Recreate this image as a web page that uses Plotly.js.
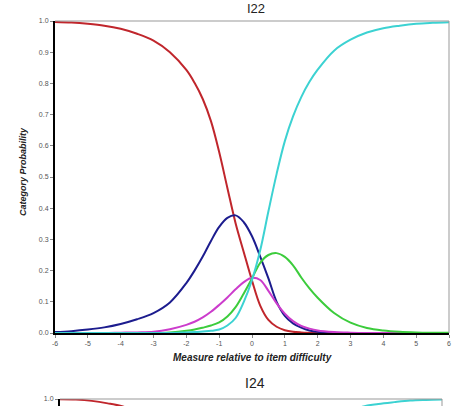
<!DOCTYPE html>
<html>
<head>
<meta charset="utf-8">
<script src="https://cdn.plot.ly/plotly-3.0.1.min.js"></script>
<style>html,body{margin:0;padding:0;background:#fff;}#chart{width:466px;height:406px;}</style>
</head>
<body>
<div id="chart"></div>
<script>
// Measures (logits relative to item difficulty)
const measure = [-6,-5.5,-5,-4.5,-4,-3.5,-3,-2.5,-2,-1.75,-1.5,-1.25,-1,-0.75,-0.5,-0.25,0,0.25,0.5,0.75,1,1.25,1.5,1.75,2,2.5,3,3.5,4,4.5,5,5.5,6];
// I22 category probability curves
const cat1 = [0.997,0.995,0.991,0.985,0.975,0.959,0.937,0.9,0.843,0.802,0.75,0.679,0.58,0.465,0.352,0.259,0.168,0.088,0.042,0.02,0.009,0.004,0.002,0.001,0.0005,0,0,0,0,0,0,0,0];
const cat2 = [0.003,0.006,0.011,0.018,0.029,0.044,0.064,0.098,0.16,0.2,0.245,0.295,0.34,0.369,0.377,0.355,0.31,0.245,0.175,0.1,0.055,0.031,0.017,0.008,0.004,0.001,0,0,0,0,0,0,0];
const cat3 = [0,0,0,0,0.001,0.002,0.004,0.012,0.026,0.036,0.05,0.068,0.09,0.114,0.14,0.163,0.177,0.17,0.135,0.095,0.062,0.038,0.023,0.014,0.008,0.003,0.001,0,0,0,0,0,0];
const cat4 = [0,0,0,0,0,0,0,0.002,0.007,0.011,0.017,0.024,0.034,0.053,0.083,0.127,0.175,0.225,0.25,0.256,0.244,0.217,0.178,0.143,0.113,0.064,0.033,0.016,0.008,0.004,0.002,0.001,0.0005];
const cat5 = [0,0,0,0,0,0,0,0,0.002,0.003,0.005,0.007,0.011,0.024,0.048,0.1,0.17,0.265,0.39,0.51,0.615,0.694,0.756,0.805,0.844,0.905,0.94,0.963,0.977,0.985,0.991,0.994,0.996];
// I24 (only the top of this chart is visible)
const measure24 = [-6,-5.5,-5,-4.5,-4,-3.5,-3,-2,-1,0,1,2,3,3.5,4,4.5,5,5.5,6];
const cat1_24 = [0.999,0.998,0.994,0.986,0.975,0.955,0.93,0.82,0.55,0.2,0.04,0.007,0.001,0,0,0,0,0,0];
const cat5_24 = [0,0,0,0,0,0,0,0.005,0.03,0.15,0.5,0.82,0.95,0.975,0.984,0.99,0.995,0.997,0.998];

const xTicks = [-6,-5,-4,-3,-2,-1,0,1,2,3,4,5,6];
const yTicks = [0,0.1,0.2,0.3,0.4,0.5,0.6,0.7,0.8,0.9,1.0];

const colors = ['#c0262c','#1c1c8e','#cc3ccc','#3ccc3c','#3cd2d2'];
const series = [cat1, cat2, cat3, cat4, cat5];
const traces = series.map((s, i) => ({
  x: measure, y: s, type: 'scatter', mode: 'lines',
  line: {color: colors[i], width: 2, shape: 'spline', smoothing: 1},
  xaxis: 'x', yaxis: 'y', hoverinfo: 'skip'
}));
traces.push({x: measure24, y: cat1_24, type: 'scatter', mode: 'lines',
  line: {color: colors[0], width: 2, shape: 'spline', smoothing: 1}, xaxis: 'x2', yaxis: 'y2'});
traces.push({x: measure24, y: cat5_24, type: 'scatter', mode: 'lines',
  line: {color: colors[4], width: 2, shape: 'spline', smoothing: 1}, xaxis: 'x2', yaxis: 'y2'});

const tickFont = {family: 'Liberation Sans, Arial, sans-serif', size: 7, color: '#555'};
const H = 385;
const layout = {
  width: 466, height: 406,
  margin: {l: 55, r: 17, t: 21, b: 0},
  paper_bgcolor: '#fff', plot_bgcolor: '#fff',
  showlegend: false,
  xaxis: {domain: [0, 1], range: [-6, 6], anchor: 'y', tickvals: xTicks, ticktext: xTicks.map(String),
    ticks: 'outside', ticklen: 3, tickcolor: '#888', tickfont: tickFont,
    showline: true, linecolor: '#000', linewidth: 2, showgrid: false, zeroline: false},
  yaxis: {domain: [73 / H, 1], range: [0, 1], anchor: 'x', tickvals: yTicks, ticktext: yTicks.map(v => v.toFixed(1)),
    ticks: 'outside', ticklen: 3, tickcolor: '#888', tickfont: tickFont,
    showline: true, linecolor: '#000', linewidth: 2, showgrid: false, zeroline: false},
  xaxis2: {domain: [5 / 394, 387 / 394], range: [-6, 6], anchor: 'y2', showticklabels: false, ticks: '',
    showline: false, showgrid: false, zeroline: false},
  yaxis2: {domain: [0, 7 / H], range: [1 - 7 / 312, 1], anchor: 'x2', tickvals: [1.0], ticktext: ['1.0'],
    ticks: 'outside', ticklen: 3, tickcolor: '#888', tickfont: tickFont,
    showline: true, linecolor: '#000', linewidth: 2, showgrid: false, zeroline: false},
  shapes: [
    {type: 'line', xref: 'x domain', yref: 'y domain', x0: 0, x1: 1, y0: 1, y1: 1, line: {color: '#999', width: 1}},
    {type: 'line', xref: 'x domain', yref: 'y domain', x0: 1, x1: 1, y0: 0, y1: 1, line: {color: '#999', width: 1}},
    {type: 'line', xref: 'x2 domain', yref: 'y2 domain', x0: 0, x1: 1, y0: 1, y1: 1, line: {color: '#999', width: 1}},
    {type: 'line', xref: 'x2 domain', yref: 'y2 domain', x0: 1, x1: 1, y0: 0, y1: 1, line: {color: '#999', width: 1}}
  ],
  annotations: [
    {text: 'I22', xref: 'paper', yref: 'paper', x: 201 / 394, y: 1 + 21 / H, xanchor: 'center', yanchor: 'top',
      borderpad: 0, showarrow: false, font: {family: 'Liberation Sans, Arial, sans-serif', size: 13, color: '#222'}},
    {text: 'I24', xref: 'paper', yref: 'paper', x: 200 / 394, y: (406 - 383) / H, xanchor: 'center', yanchor: 'middle',
      showarrow: false, font: {family: 'Liberation Sans, Arial, sans-serif', size: 14, color: '#222'}},
    {text: '<b><i>Measure relative to item difficulty</i></b>', xref: 'paper', yref: 'paper', x: 197 / 394, y: (406 - 357) / H,
      xanchor: 'center', yanchor: 'middle', showarrow: false, font: {family: 'Liberation Sans, Arial, sans-serif', size: 10, color: '#222'}},
    {text: '<b><i>Category Probability</i></b>', xref: 'paper', yref: 'paper', x: (23 - 55) / 394, y: (406 - 172) / H,
      xanchor: 'center', yanchor: 'middle', textangle: -90, showarrow: false, font: {family: 'Liberation Sans, Arial, sans-serif', size: 9, color: '#222'}}
  ]
};
Plotly.newPlot('chart', traces, layout, {staticPlot: true, displayModeBar: false});
</script>
</body>
</html>
